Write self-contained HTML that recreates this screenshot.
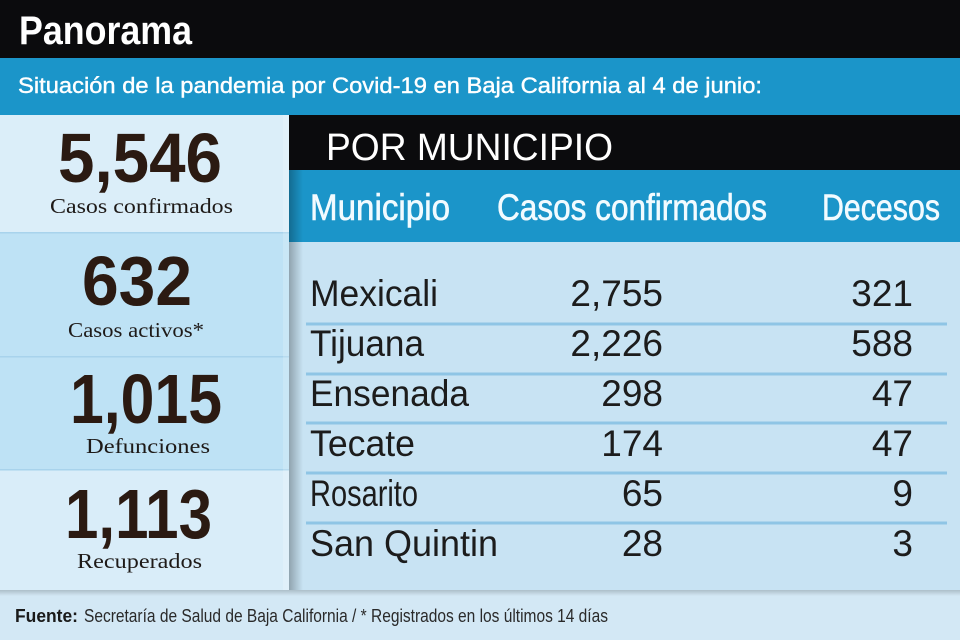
<!DOCTYPE html>
<html><head><meta charset="utf-8">
<style>
html,body{margin:0;padding:0;background:#d3e8f5;}
svg{display:block;}
</style></head>
<body>
<svg width="960" height="640" viewBox="0 0 960 640" xmlns="http://www.w3.org/2000/svg">
<defs>
<linearGradient id="shL" x1="0" x2="1" y1="0" y2="0">
<stop offset="0" stop-color="#000" stop-opacity="0.28"/>
<stop offset="1" stop-color="#000" stop-opacity="0"/>
</linearGradient>
<linearGradient id="shB" x1="0" x2="0" y1="0" y2="1">
<stop offset="0" stop-color="#000" stop-opacity="0.18"/>
<stop offset="1" stop-color="#000" stop-opacity="0"/>
</linearGradient>
</defs>
<rect x="0" y="0" width="960" height="640" fill="#d3e8f5"/>
<rect x="0" y="0" width="960" height="58" fill="#0b0b0d"/>
<rect x="0" y="58" width="960" height="57" fill="#1b95c9"/>
<rect x="0" y="115" width="289" height="118" fill="#dbeef9"/>
<rect x="0" y="233" width="289" height="124" fill="#bee2f5"/>
<rect x="0" y="357" width="289" height="113" fill="#bee2f5"/>
<rect x="0" y="356" width="289" height="1.5" fill="#a8d3ec"/>
<rect x="0" y="232" width="289" height="1.5" fill="#a8d3ec"/>
<rect x="0" y="470" width="289" height="120" fill="#d9edf9"/>
<rect x="0" y="469" width="289" height="1.5" fill="#a8d3ec"/>
<rect x="283" y="115" width="6" height="475" fill="#ffffff" opacity="0.18"/>
<rect x="289" y="115" width="671" height="55" fill="#0b0b0d"/>
<rect x="289" y="170" width="671" height="72" fill="#1b95c9"/>
<rect x="289" y="242" width="671" height="348" fill="#c8e3f3"/>
<rect x="289" y="170" width="14" height="420" fill="url(#shL)"/>
<rect x="0" y="590" width="960" height="6" fill="url(#shB)"/>
<g fill="#8fc5e5">
<rect x="306" y="322.5" width="641" height="3"/>
<rect x="306" y="372.5" width="641" height="3"/>
<rect x="306" y="421.5" width="641" height="3"/>
<rect x="306" y="471.5" width="641" height="3"/>
<rect x="306" y="521.5" width="641" height="3"/>
</g>

<text x="19" y="44" font-family="Liberation Sans, sans-serif" font-weight="bold" font-size="40" fill="#fff" textLength="173" lengthAdjust="spacingAndGlyphs">Panorama</text>
<text x="18" y="93" font-family="Liberation Sans, sans-serif" font-size="22" fill="#fff" stroke="#fff" stroke-width="0.4" textLength="744" lengthAdjust="spacingAndGlyphs">Situación de la pandemia por Covid-19 en Baja California al 4 de junio:</text>

<g font-family="Liberation Sans, sans-serif" font-weight="bold" font-size="70" fill="#2b1a12">
<text x="58" y="182" textLength="164" lengthAdjust="spacingAndGlyphs">5,546</text>
<text x="82" y="305" textLength="110" lengthAdjust="spacingAndGlyphs">632</text>
<text x="70" y="423" textLength="152" lengthAdjust="spacingAndGlyphs">1,015</text>
<text x="65" y="538" textLength="147" lengthAdjust="spacingAndGlyphs">1,113</text>
</g>
<g font-family="Liberation Serif, serif" font-size="21" fill="#1e1a18">
<text x="50" y="213" textLength="183" lengthAdjust="spacingAndGlyphs">Casos confirmados</text>
<text x="68" y="337" textLength="136" lengthAdjust="spacingAndGlyphs">Casos activos*</text>
<text x="86" y="453" textLength="124" lengthAdjust="spacingAndGlyphs">Defunciones</text>
<text x="77" y="568" textLength="125" lengthAdjust="spacingAndGlyphs">Recuperados</text>
</g>

<text x="326" y="160" font-family="Liberation Sans, sans-serif" font-size="38" fill="#fff" textLength="287" lengthAdjust="spacingAndGlyphs">POR MUNICIPIO</text>
<g font-family="Liberation Sans, sans-serif" font-size="37" fill="#f2fbff" stroke="#f2fbff" stroke-width="0.6">
<text x="310" y="220" textLength="140" lengthAdjust="spacingAndGlyphs">Municipio</text>
<text x="497" y="220" textLength="270" lengthAdjust="spacingAndGlyphs">Casos confirmados</text>
<text x="822" y="220" textLength="118" lengthAdjust="spacingAndGlyphs">Decesos</text>
</g>

<g font-family="Liberation Sans, sans-serif" font-size="37" fill="#1c1c1c">
<text x="310" y="306" textLength="128" lengthAdjust="spacingAndGlyphs">Mexicali</text>
<text x="310" y="356" textLength="114" lengthAdjust="spacingAndGlyphs">Tijuana</text>
<text x="310" y="406" textLength="159" lengthAdjust="spacingAndGlyphs">Ensenada</text>
<text x="310" y="456" textLength="105" lengthAdjust="spacingAndGlyphs">Tecate</text>
<text x="310" y="506" textLength="108" lengthAdjust="spacingAndGlyphs">Rosarito</text>
<text x="310" y="556" textLength="188" lengthAdjust="spacingAndGlyphs">San Quintin</text>
</g>
<g font-family="Liberation Sans, sans-serif" font-size="37" fill="#1c1c1c" text-anchor="end">
<text x="663" y="306">2,755</text>
<text x="663" y="356">2,226</text>
<text x="663" y="406">298</text>
<text x="663" y="456">174</text>
<text x="663" y="506">65</text>
<text x="663" y="556">28</text>
<text x="913" y="306">321</text>
<text x="913" y="356">588</text>
<text x="913" y="406">47</text>
<text x="913" y="456">47</text>
<text x="913" y="506">9</text>
<text x="913" y="556">3</text>
</g>

<text x="15" y="622" font-family="Liberation Sans, sans-serif" font-weight="bold" font-size="18" fill="#1a1a1a" textLength="63" lengthAdjust="spacingAndGlyphs">Fuente:</text>
<text x="84" y="622" font-family="Liberation Sans, sans-serif" font-size="18" fill="#2a2a2a" textLength="524" lengthAdjust="spacingAndGlyphs">Secretaría de Salud de Baja California / * Registrados en los últimos 14 días</text>
</svg>
</body></html>
